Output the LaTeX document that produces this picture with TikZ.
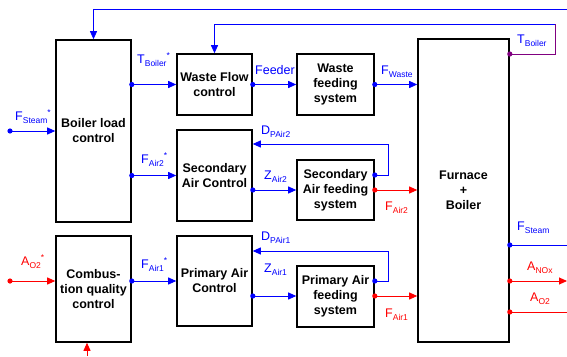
\documentclass[tikz,border=0pt]{standalone}
\usepackage{fontspec}
\setmainfont{Liberation Sans}
\usetikzlibrary{arrows.meta}
\definecolor{bl}{RGB}{0,0,255}
\definecolor{rd}{RGB}{255,0,0}
\definecolor{pu}{RGB}{128,0,128}
\newcommand{\subf}{\fontsize{8.5}{9}\selectfont}
\newcommand{\lb}[2]{#1\raisebox{-3.5pt}{\subf #2}}
\newcommand{\lbs}[2]{#1\raisebox{-3.5pt}{\subf #2}\raisebox{4.5pt}{\subf *}}
\begin{document}
\begin{tikzpicture}[x=1pt,y=-1pt,
  box/.style={draw,line width=1.6pt,inner sep=0pt,align=center,font=\fontsize{12.5}{15}\selectfont\bfseries},
  conn/.style={line width=0.9pt},
  arr/.style={-{Triangle[length=8pt,width=7pt]}},
  lab/.style={anchor=base west,inner sep=0pt,font=\fontsize{12.5}{15}\selectfont}]
\useasboundingbox (0,0) rectangle (567,356);
% boxes
\node[box,minimum width=75pt,minimum height=182pt] (blc) at (93.5,131) {Boiler load\\control};
\node[box,minimum width=75pt,minimum height=106pt] (cqc) at (93.5,289) {Combus-\\tion quality\\control};
\node[box,minimum width=75pt,minimum height=61pt] (wfc) at (214.5,84.5) {Waste Flow\\control};
\node[box,minimum width=75pt,minimum height=91pt] (sac) at (214.5,175.5) {Secondary\\Air Control};
\node[box,minimum width=75pt,minimum height=90pt] (pac) at (214.5,281) {Primary Air\\Control};
\node[box,minimum width=77pt,minimum height=61pt] (wfs) at (335.5,84.5) {Waste\\feeding\\system};
\node[box,minimum width=77pt,minimum height=60pt] (safs) at (335.5,190) {Secondary\\Air feeding\\system};
\node[box,minimum width=77pt,minimum height=61pt] (pafs) at (335.5,296.5) {Primary Air\\feeding\\system};
\node[box,minimum width=91pt,minimum height=303pt] (fb) at (463.5,190.5) {Furnace\\+\\Boiler};
% free-end coordinates
\coordinate (fsin) at (10,131);
\coordinate (aoin) at (10,281);
\coordinate (topR) at (567,9);
\coordinate (loopR) at (555,54);
\coordinate (stR) at (567,245);
\coordinate (noR) at (567,281);
\coordinate (o2R) at (567,312);
\coordinate (botIn) at (87,356);
% blue connectors
\draw[conn,bl,arr] (fsin) -- (blc.west |- fsin);
\fill[bl] (fsin) circle (2.6pt);
\draw[conn,bl,arr] (blc.east |- wfc.west) -- (wfc.west);
\fill[bl] (blc.east |- wfc.west) circle (2.6pt);
\draw[conn,bl,arr] (blc.east |- sac.west) -- (sac.west);
\fill[bl] (blc.east |- sac.west) circle (2.6pt);
\draw[conn,bl,arr] (cqc.east |- pac.west) -- (pac.west);
\fill[bl] (cqc.east |- pac.west) circle (2.6pt);
\draw[conn,bl,arr] (wfc.east) -- (wfs.west);
\fill[bl] (wfc.east) circle (2.6pt);
\draw[conn,bl,arr] (wfs.east) -- (fb.west |- wfs.east);
\fill[bl] (wfs.east) circle (2.6pt);
\draw[conn,bl,arr] (sac.east |- safs.west) -- (safs.west);
\fill[bl] (sac.east |- safs.west) circle (2.6pt);
\draw[conn,bl,arr] (safs.east |- 0,175) -| (388,144) -- (sac.east |- 0,144);
\fill[bl] (safs.east |- 0,175) circle (2.6pt);
\draw[conn,bl,arr] (pac.east |- 0,296) -- (pafs.west |- 0,296);
\fill[bl] (pac.east |- 0,296) circle (2.6pt);
\draw[conn,bl,arr] (pafs.east |- 0,281) -| (388,251) -- (pac.east |- 0,251);
\fill[bl] (pafs.east |- 0,281) circle (2.6pt);
\draw[conn,bl,arr,line width=0.8pt] (topR) -- (blc.north |- topR) -- (blc.north);
\draw[conn,pu] (fb.east |- loopR) -- (loopR) -- (loopR |- 0,24);
\draw[conn,bl,arr] (loopR |- 0,24) -- (wfc.north |- 0,24) -- (wfc.north);
\fill[pu] (fb.east |- loopR) circle (2.6pt);
\draw[conn,bl] (fb.east |- stR) -- (stR);
\fill[bl] (fb.east |- stR) circle (2.6pt);
% red connectors
\draw[conn,rd,arr] (aoin) -- (cqc.west |- aoin);
\fill[rd] (aoin) circle (2.6pt);
\draw[conn,rd,arr] (safs.east) -- (fb.west |- safs.east);
\fill[rd] (safs.east) circle (2.6pt);
\draw[conn,rd,arr] (pafs.east |- 0,296) -- (fb.west |- 0,296);
\fill[rd] (pafs.east |- 0,296) circle (2.6pt);
\draw[conn,rd,arr] (fb.east |- noR) -- (noR);
\fill[rd] (fb.east |- noR) circle (2.6pt);
\draw[conn,rd] (fb.east |- o2R) -- (o2R);
\fill[rd] (fb.east |- o2R) circle (2.6pt);
\draw[conn,rd,arr] (botIn) -- (cqc.south -| botIn);
% labels
\node[lab,bl] (l1) at (137,63) {\lbs{T}{Boiler}};
\node[lab,bl] (l2) at (15,120) {\lbs{F}{Steam}};
\node[lab,bl] (l3) at (141,163) {\lbs{F}{Air2}};
\node[lab,bl] (l4) at (255,74) {Feeder};
\node[lab,bl] (l5) at (381,74) {\lb{F}{Waste}};
\node[lab,bl] (l6) at (261,134) {\lb{D}{PAir2}};
\node[lab,bl] (l7) at (264,179) {\lb{Z}{Air2}};
\node[lab,rd] (l8) at (385,210) {\lb{F}{Air2}};
\node[lab,bl] (l9) at (261,240) {\lb{D}{PAir1}};
\node[lab,bl] (l10) at (264,272) {\lb{Z}{Air1}};
\node[lab,rd] (l11) at (385,317) {\lb{F}{Air1}};
\node[lab,bl] (l12) at (517,43) {\lb{T}{Boiler}};
\node[lab,bl] (l13) at (517,230) {\lb{F}{Steam}};
\node[lab,rd] (l14) at (527,270) {\lb{A}{NOx}};
\node[lab,rd] (l15) at (530,301) {\lb{A}{O2}};
\node[lab,rd] (l16) at (21,265) {\lbs{A}{O2}};
\node[lab,bl] (l17) at (141,268) {\lbs{F}{Air1}};
\end{tikzpicture}
\end{document}
